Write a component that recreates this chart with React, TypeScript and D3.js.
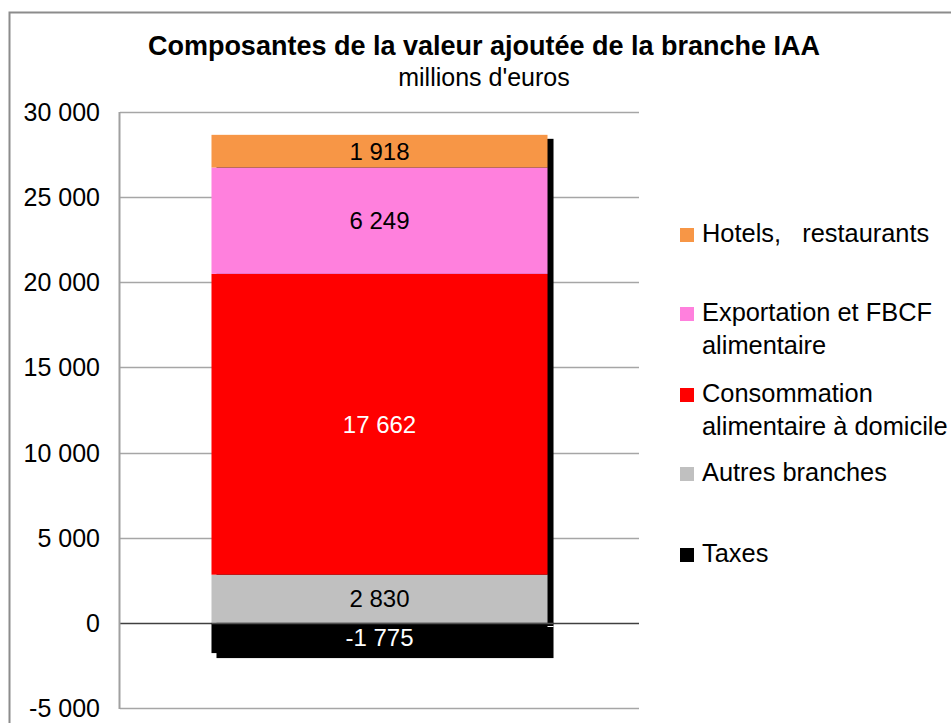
import React from "react";
import * as d3 from "d3";

const categories = ["IAA"];
const seriesNames = [
  "Taxes",
  "Autres branches",
  "Consommation alimentaire à domicile",
  "Exportation et FBCF alimentaire",
  "Hotels, restaurants",
];
const seriesValues = [-1775, 2830, 17662, 6249, 1918];
const seriesColors = ["#000000", "#C0C0C0", "#FF0000", "#FF80DD", "#F79646"];
const labelColors = ["#FFFFFF", "#000000", "#FFFFFF", "#000000", "#000000"];
const yTicks = [-5000, 0, 5000, 10000, 15000, 20000, 25000, 30000];

const legendItems = [
  { lines: ["Hotels,   restaurants"], color: "#F79646", y: 235 },
  { lines: ["Exportation et FBCF", "alimentaire"], color: "#FF80DD", y: 314 },
  { lines: ["Consommation", "alimentaire à domicile"], color: "#FF0000", y: 395 },
  { lines: ["Autres branches"], color: "#C0C0C0", y: 474 },
  { lines: ["Taxes"], color: "#000000", y: 555 },
];

const W = 951;
const H = 723;
const plot = { left: 120, right: 639, top: 112, bottom: 708 };
const FONT = "'Liberation Sans', Arial, sans-serif";

const fmt = (v: number) => {
  const s = Math.abs(v).toString().replace(/\B(?=(\d{3})+(?!\d))/g, " ");
  return (v < 0 ? "-" : "") + s;
};

export default function App() {
  const y = d3.scaleLinear().domain([-5000, 30000]).range([plot.bottom, plot.top]);
  const x = d3.scaleBand<string>().domain(categories).range([plot.left, plot.right]).padding(0.214);

  const row: Record<string, number | string> = { cat: categories[0] };
  seriesNames.forEach((n, i) => (row[n] = seriesValues[i]));
  const stacked = d3
    .stack<any>()
    .keys(seriesNames)
    .offset(d3.stackOffsetDiverging)([row]);

  const bx = x(categories[0]) as number;
  const bw = x.bandwidth();
  const allY = stacked.flatMap((s) => [s[0][0], s[0][1]]);
  const topV = d3.max(allY) as number;
  const botV = d3.min(allY) as number;
  const zeroY = Math.round(y(0)) + 0.5;

  return (
    <svg
      width={W}
      height={H}
      style={{ position: "absolute", left: 0, top: 0, overflow: "hidden", background: "#fff" }}
      fontFamily={FONT}
    >
      <rect x={0} y={0} width={W} height={H} fill="#fff" />
      <rect x={9.5} y={12.5} width={1200} height={1200} fill="none" stroke="#8c8c8c" strokeWidth={2} />

      <text x={484} y={46} textAnchor="middle" dominantBaseline="central" fontSize={27} fontWeight="bold" fill="#000">
        Composantes de la valeur ajoutée de la branche IAA
      </text>
      <text x={484} y={77} textAnchor="middle" dominantBaseline="central" fontSize={25} fill="#000">
        millions d'euros
      </text>

      {yTicks.map((t) => (
        <line
          key={t}
          x1={plot.left}
          x2={plot.right}
          y1={Math.round(y(t)) + 0.5}
          y2={Math.round(y(t)) + 0.5}
          stroke={t === 0 ? "#404040" : "#a6a6a6"}
          strokeWidth={1.5}
        />
      ))}
      <line x1={plot.left - 0.5} x2={plot.left - 0.5} y1={plot.top} y2={plot.bottom + 1} stroke="#a0a0a0" strokeWidth={2} />

      {yTicks.map((t) => (
        <text key={t} x={100} y={y(t)} textAnchor="end" dominantBaseline="central" fontSize={25} fill="#000">
          {fmt(t)}
        </text>
      ))}

      {/* shadow */}
      <rect x={bx + 5} y={y(topV) + 4} width={bw + 1} height={y(botV) - y(topV) + 1} fill="#000" />

      {stacked.map((s, i) => {
        const y0 = y(Math.max(s[0][0], s[0][1]));
        const y1 = y(Math.min(s[0][0], s[0][1]));
        return <rect key={s.key} x={bx} y={y0} width={bw} height={y1 - y0} fill={seriesColors[i]} />;
      })}

      <line x1={bx} x2={bx + bw + 6} y1={zeroY} y2={zeroY} stroke="#505050" strokeWidth={1.5} />
      <line x1={bx + bw} x2={bx + bw + 6} y1={zeroY + 3} y2={zeroY + 3} stroke="#ffffff" strokeWidth={1} />

      {stacked.map((s, i) => {
        const mid = y((s[0][0] + s[0][1]) / 2);
        return (
          <text
            key={s.key}
            x={bx + bw / 2}
            y={mid}
            textAnchor="middle"
            dominantBaseline="central"
            fontSize={24}
            fill={labelColors[i]}
          >
            {fmt(seriesValues[i])}
          </text>
        );
      })}

      {legendItems.map((it) => (
        <g key={it.lines[0]}>
          <rect x={680} y={it.y - 7} width={14} height={14} fill={it.color} />
          {it.lines.map((ln, j) => (
            <text
              key={j}
              x={702}
              y={it.y - 2 + j * 33}
              dominantBaseline="central"
              fontSize={25.4}
              fill="#000"
              style={{ whiteSpace: "pre" }}
            >
              {ln}
            </text>
          ))}
        </g>
      ))}
    </svg>
  );
}
